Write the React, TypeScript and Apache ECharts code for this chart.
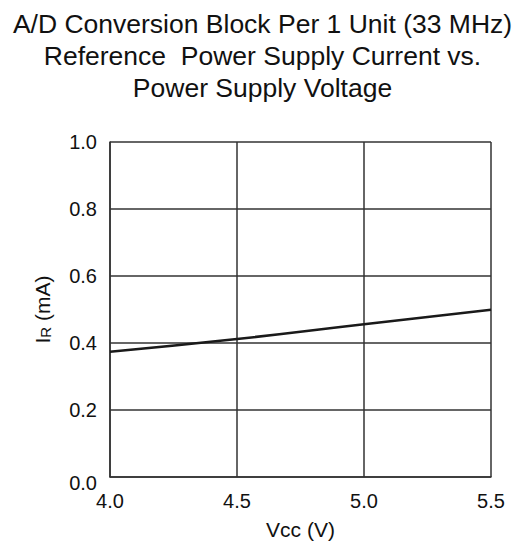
import React, { useEffect, useRef } from "react";
import * as echarts from "echarts";

const titleLines = [
  "A/D Conversion Block Per 1 Unit (33 MHz)",
  "Reference  Power Supply Current vs.",
  "Power Supply Voltage",
];
const vccValues = [4.0, 4.5, 5.0, 5.5];
const irValues = [0.374, 0.412, 0.456, 0.499];

const FONT = "'Liberation Sans', Arial, Helvetica, sans-serif";

export default function App() {
  const ref = useRef<HTMLDivElement>(null);
  useEffect(() => {
    if (!ref.current) return;
    const chart = echarts.init(ref.current, undefined, { renderer: "svg" });
    chart.setOption({
      animation: false,
      backgroundColor: "#ffffff",
      title: {
        text: titleLines.join("\n"),
        left: "center",
        top: 3,
        textStyle: {
          fontFamily: FONT,
          fontSize: 26.5,
          fontWeight: "normal",
          color: "#111",
          lineHeight: 32,
        },
      },
      grid: { left: 110, right: 34, top: 142, bottom: 66, containLabel: false },
      xAxis: {
        type: "value",
        min: 4.0,
        max: 5.5,
        interval: 0.5,
        name: "Vcc (V)",
        nameLocation: "middle",
        nameGap: 42,
        nameTextStyle: { fontFamily: FONT, fontSize: 21, color: "#111" },
        axisLine: { show: true, lineStyle: { color: "#333", width: 1.5 } },
        axisTick: { show: false },
        axisLabel: {
          margin: 14,
          fontFamily: FONT,
          fontSize: 20,
          color: "#111",
          formatter: (v: number) => v.toFixed(1),
        },
        splitLine: { show: true, lineStyle: { color: "#333", width: 1.5 } },
      },
      yAxis: {
        type: "value",
        min: 0,
        max: 1.0,
        interval: 0.2,
        name: "{a|I}{b|R}{a| (mA)}",
        nameLocation: "middle",
        nameRotate: 90,
        nameGap: 57,
        nameTextStyle: {
          fontFamily: FONT,
          fontSize: 21,
          color: "#111",
          rich: {
            a: { fontFamily: FONT, fontSize: 21, color: "#111" },
            b: { fontFamily: FONT, fontSize: 15, color: "#111", verticalAlign: "bottom" },
          },
        },
        axisLine: { show: true, lineStyle: { color: "#333", width: 1.5 } },
        axisTick: { show: false },
        axisLabel: {
          margin: 13,
          fontFamily: FONT,
          fontSize: 20,
          color: "#111",
          formatter: (v: number) => (v === 0 ? "{z|0.0}" : v.toFixed(1)),
          rich: {
            z: { fontFamily: FONT, fontSize: 20, color: "#111", padding: [12, 0, 0, 0] },
          },
        },
        splitLine: { show: true, lineStyle: { color: "#333", width: 1.5 } },
      },
      series: [
        {
          type: "line",
          data: vccValues.map((x, i) => [x, irValues[i]]),
          smooth: true,
          showSymbol: false,
          lineStyle: { color: "#1a1a1a", width: 2.5 },
        },
      ],
    });
    return () => chart.dispose();
  }, []);
  return (
    <div
      ref={ref}
      style={{ position: "fixed", left: 0, top: 0, width: 525, height: 545 }}
    />
  );
}
